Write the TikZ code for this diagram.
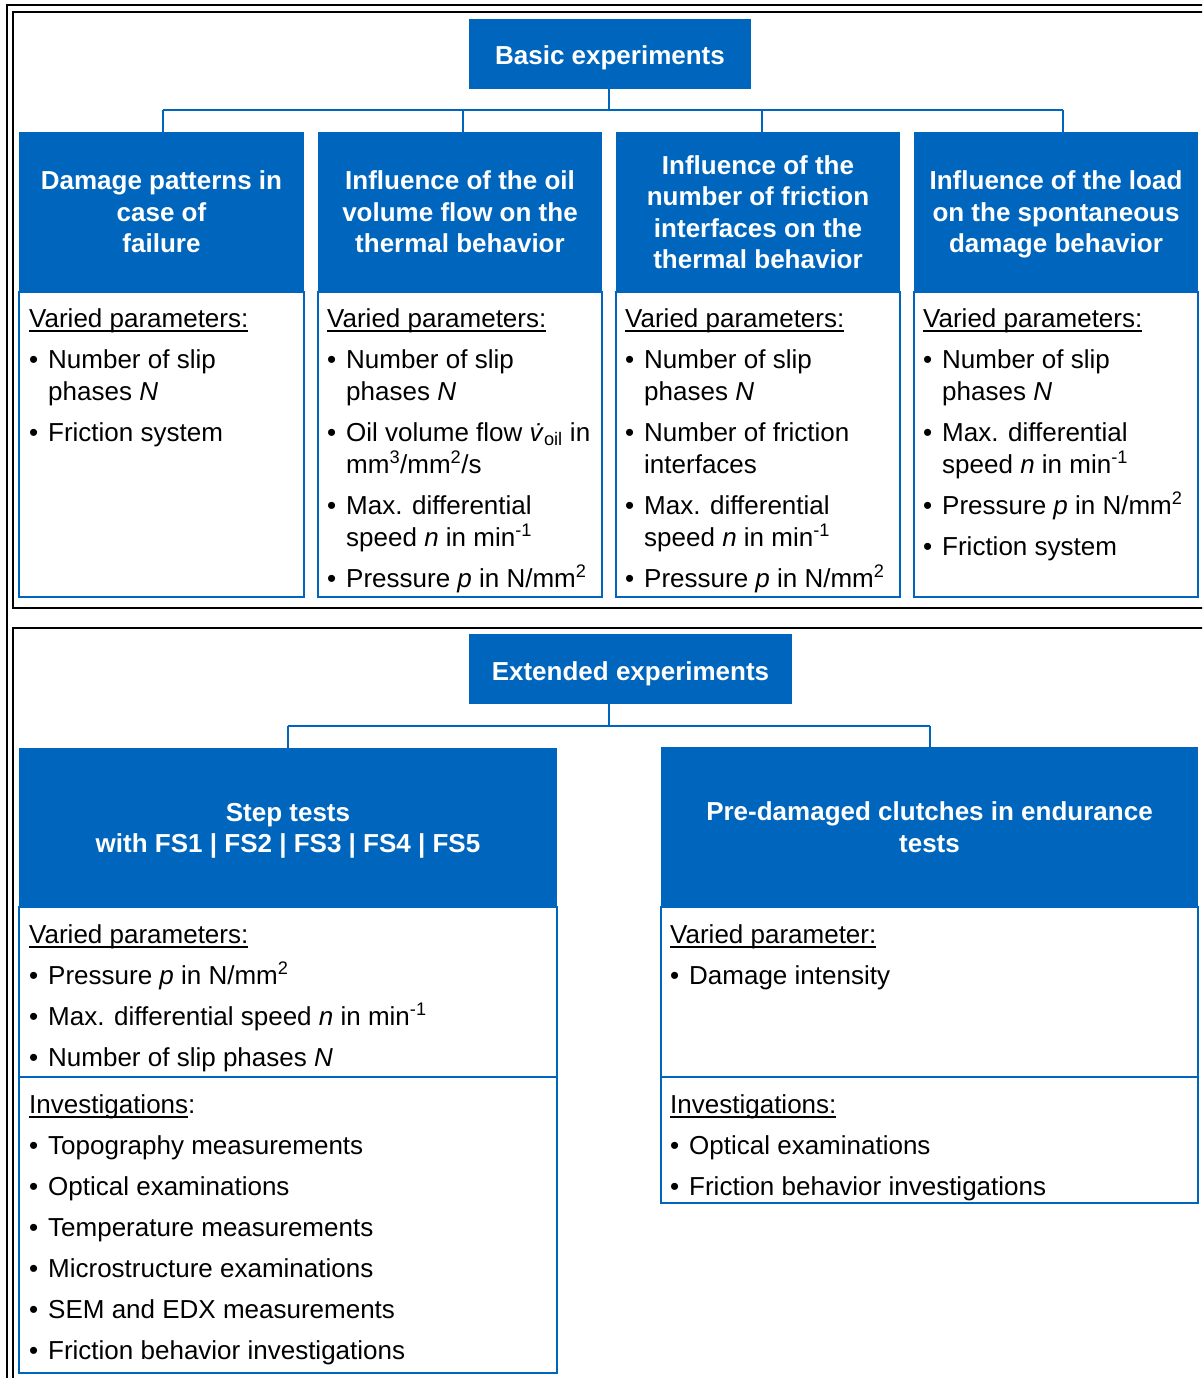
\documentclass[tikz,border=0pt]{standalone}
\usepackage{fontspec}
\setmainfont{Liberation Sans}
\definecolor{boxblue}{RGB}{0,102,189}
\newsavebox\ulbox
\newcommand\myul[1]{\sbox\ulbox{#1}\rlap{\rule[-4.5pt]{\wd\ulbox}{1.6pt}}\usebox\ulbox}
\tikzset{
  hdr/.style={fill=boxblue, text=white, font=\bfseries\fontsize{26}{31.5}\selectfont,
    align=center, inner sep=0pt, anchor=center, text depth=0pt},
  oneline/.style={text height=22pt, text depth=0pt},
  outline/.style={draw=boxblue, line width=2.2pt},
  conn/.style={draw=boxblue, line width=2.2pt},
  frameline/.style={draw=black, line width=2pt},
  bodytxt/.style={anchor=base west, inner sep=0pt, font=\fontsize{26}{32}\selectfont, text=black}
}
\begin{document}
\begin{tikzpicture}[x=1pt,y=-1pt]
\useasboundingbox (0,0) rectangle (1202,1378);
\clip (0,0) rectangle (1202,1378);
\fill[white] (0,0) rectangle (1202,1378);

% frames
\draw[frameline] (1230,5) -- (7,5) -- (7,1400);
\draw[frameline] (1230,12) -- (13,12) -- (13,608) -- (1230,608);
\draw[frameline] (1230,628) -- (13,628) -- (13,1400);

% ---------- basic experiments ----------
\node[hdr, oneline, minimum width=282, minimum height=70] (basic) at (610,54) {Basic experiments};

\node[hdr, minimum width=285, minimum height=160] (h1) at (161.5,212) {Damage patterns in\\case of\\failure};
\node[hdr, minimum width=284, minimum height=160] (h2) at (460,212) {Influence of the oil\\volume flow on the\\thermal behavior};
\node[hdr, minimum width=284, minimum height=160] (h3) at (758,212) {Influence of the\\number of friction\\interfaces on the\\thermal behavior};
\node[hdr, minimum width=284, minimum height=160] (h4) at (1056,212) {Influence of the load\\on the spontaneous\\damage behavior};

\coordinate (t1) at (163,110);
\coordinate (t2) at (463,110);
\coordinate (t3) at (762,110);
\coordinate (t4) at (1063,110);
\draw[conn] (basic.south -| 609,0) -- (609,110);
\draw[conn] (t1) -- (t4);
\draw[conn] (t1) -- (t1 |- h1.north);
\draw[conn] (t2) -- (t2 |- h2.north);
\draw[conn] (t3) -- (t3 |- h3.north);
\draw[conn] (t4) -- (t4 |- h4.north);

\draw[outline] (19,292) rectangle (304,597);
\draw[outline] (318,292) rectangle (602,597);
\draw[outline] (616,292) rectangle (900,597);
\draw[outline] (914,292) rectangle (1198,597);

\node[bodytxt] (b1) at (29,327) {\begin{tabular}[t]{@{}p{19pt}@{}l@{}}
\multicolumn{2}{@{}l@{}}{\myul{Varied parameters:}}\\[9pt]
\textbullet & Number of slip\\
 & phases \textit{N}\\[9pt]
\textbullet & Friction system
\end{tabular}};

\node[bodytxt] (b2) at (327,327) {\begin{tabular}[t]{@{}p{19pt}@{}l@{}}
\multicolumn{2}{@{}l@{}}{\myul{Varied parameters:}}\\[9pt]
\textbullet & Number of slip\\
 & phases \textit{N}\\[9pt]
\textbullet & Oil volume flow \textit{\.{v}}\textsubscript{oil} in\\
 & mm\textsuperscript{3}/mm\textsuperscript{2}/s\\[9pt]
\textbullet & Max. differential\\
 & speed \textit{n} in min\textsuperscript{-1}\\[9pt]
\textbullet & Pressure \textit{p} in N/mm\textsuperscript{2}
\end{tabular}};

\node[bodytxt] (b3) at (625,327) {\begin{tabular}[t]{@{}p{19pt}@{}l@{}}
\multicolumn{2}{@{}l@{}}{\myul{Varied parameters:}}\\[9pt]
\textbullet & Number of slip\\
 & phases \textit{N}\\[9pt]
\textbullet & Number of friction\\
 & interfaces\\[9pt]
\textbullet & Max. differential\\
 & speed \textit{n} in min\textsuperscript{-1}\\[9pt]
\textbullet & Pressure \textit{p} in N/mm\textsuperscript{2}
\end{tabular}};

\node[bodytxt] (b4) at (923,327) {\begin{tabular}[t]{@{}p{19pt}@{}l@{}}
\multicolumn{2}{@{}l@{}}{\myul{Varied parameters:}}\\[9pt]
\textbullet & Number of slip\\
 & phases \textit{N}\\[9pt]
\textbullet & Max. differential\\
 & speed \textit{n} in min\textsuperscript{-1}\\[9pt]
\textbullet & Pressure \textit{p} in N/mm\textsuperscript{2}\\[9pt]
\textbullet & Friction system
\end{tabular}};

% ---------- extended experiments ----------
\node[hdr, oneline, minimum width=323, minimum height=70] (ext) at (630.5,669) {Extended experiments};
\node[hdr, minimum width=538, minimum height=160] (hs) at (288,828) {Step tests\\with FS1 | FS2 | FS3 | FS4 | FS5};
\node[hdr, minimum width=537, minimum height=160] (hp) at (929.5,827) {Pre-damaged clutches in endurance\\tests};

\coordinate (e0) at (609,726);
\coordinate (e1) at (288,726);
\coordinate (e2) at (930,726);
\draw[conn] (e0 |- ext.south) -- (e0);
\draw[conn] (e1) -- (e2);
\draw[conn] (e1) -- (e1 |- hs.north);
\draw[conn] (e2) -- (e2 |- hp.north);

\draw[outline] (19,907) rectangle (557,1077);
\draw[outline] (19,1077) rectangle (557,1373);
\draw[outline] (661,907) rectangle (1198,1077);
\draw[outline] (661,1077) rectangle (1198,1203);

\node[bodytxt] (s1) at (29,943) {\begin{tabular}[t]{@{}p{19pt}@{}l@{}}
\multicolumn{2}{@{}l@{}}{\myul{Varied parameters:}}\\[9pt]
\textbullet & Pressure \textit{p} in N/mm\textsuperscript{2}\\[9pt]
\textbullet & Max. differential speed \textit{n} in min\textsuperscript{-1}\\[9pt]
\textbullet & Number of slip phases \textit{N}
\end{tabular}};

\node[bodytxt] (s2) at (29,1113) {\begin{tabular}[t]{@{}p{19pt}@{}l@{}}
\multicolumn{2}{@{}l@{}}{\myul{Investigations}:}\\[9pt]
\textbullet & Topography measurements\\[9pt]
\textbullet & Optical examinations\\[9pt]
\textbullet & Temperature measurements\\[9pt]
\textbullet & Microstructure examinations\\[9pt]
\textbullet & SEM and EDX measurements\\[9pt]
\textbullet & Friction behavior investigations
\end{tabular}};

\node[bodytxt] (p1) at (670,943) {\begin{tabular}[t]{@{}p{19pt}@{}l@{}}
\multicolumn{2}{@{}l@{}}{\myul{Varied parameter:}}\\[9pt]
\textbullet & Damage intensity
\end{tabular}};

\node[bodytxt] (p2) at (670,1113) {\begin{tabular}[t]{@{}p{19pt}@{}l@{}}
\multicolumn{2}{@{}l@{}}{\myul{Investigations:}}\\[9pt]
\textbullet & Optical examinations\\[9pt]
\textbullet & Friction behavior investigations
\end{tabular}};
\end{tikzpicture}
\end{document}
